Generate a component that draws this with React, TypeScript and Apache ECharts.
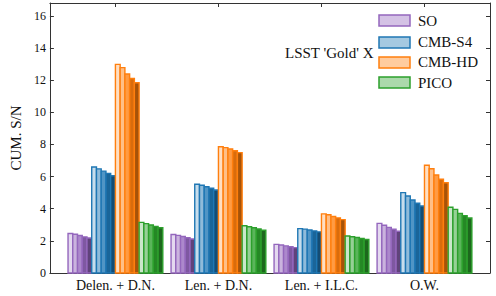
import React, { useEffect, useRef } from "react";
import * as echarts from "echarts";

const categories = ["Delen. + D.N.", "Len. + D.N.", "Len. + I.L.C.", "O.W."];
const experiments = ["SO", "CMB-S4", "CMB-HD", "PICO"];
const yTicks = [0, 2, 4, 6, 8, 10, 12, 14, 16];

// cumulative S/N per category, 5 steps per experiment
const soValues = [
  [2.46, 2.41, 2.33, 2.25, 2.18],
  [2.4, 2.34, 2.27, 2.19, 2.12],
  [1.78, 1.74, 1.69, 1.63, 1.58],
  [3.09, 2.97, 2.84, 2.72, 2.6],
];
const s4Values = [
  [6.6, 6.48, 6.34, 6.2, 6.05],
  [5.52, 5.46, 5.37, 5.27, 5.16],
  [2.76, 2.73, 2.68, 2.62, 2.56],
  [5.0, 4.79, 4.54, 4.34, 4.17],
];
const hdValues = [
  [12.98, 12.78, 12.38, 12.1, 11.84],
  [7.86, 7.8, 7.72, 7.61, 7.49],
  [3.68, 3.62, 3.52, 3.43, 3.32],
  [6.7, 6.49, 6.1, 5.83, 5.62],
];
const picoValues = [
  [3.15, 3.07, 2.99, 2.9, 2.82],
  [2.94, 2.88, 2.82, 2.74, 2.66],
  [2.3, 2.26, 2.21, 2.15, 2.08],
  [4.09, 3.96, 3.71, 3.57, 3.42],
];
const allValues = [soValues, s4Values, hdValues, picoValues];

const baseColors = ["#9467bd", "#1f77b4", "#ff7f0e", "#2ca02c"];
const FONT = "Liberation Serif";

function hexToRgb(h: string) {
  const n = parseInt(h.slice(1), 16);
  return [(n >> 16) & 255, (n >> 8) & 255, n & 255];
}
function shade(h: string, t: number) {
  const [r, g, b] = hexToRgb(h);
  let c;
  if (t >= 0) c = [r, g, b].map((v) => Math.round(v + (255 - v) * t));
  else c = [r, g, b].map((v) => Math.round(v * (1 + t)));
  return `rgb(${c[0]},${c[1]},${c[2]})`;
}
const shadeSteps = [0.75, 0.5, 0.22, -0.15, -0.35];

const EXP_W = 0.23;
const BAR_W = 0.046;

export default function App() {
  const ref = useRef<HTMLDivElement>(null);
  useEffect(() => {
    if (!ref.current) return;
    const chart = echarts.init(ref.current, null, { renderer: "svg" });
    const data: number[][] = [];
    allValues.forEach((expVals, e) => {
      expVals.forEach((vals, c) => {
        vals.forEach((v, k) => data.push([c, e, k, v]));
      });
    });
    const axisLine = { show: true, onZero: false, lineStyle: { color: "#333", width: 1 } };
    const legendX = 379;
    const legendYs = [15, 37, 57, 77];
    const legendTextYs = [21, 42, 62, 83];
    chart.setOption({
      animation: false,
      textStyle: { fontFamily: FONT },
      grid: { left: 40, right: 6, top: 3, bottom: 23, containLabel: false },
      xAxis: [
        {
          type: "value",
          min: -0.636,
          max: 3.636,
          position: "bottom",
          axisLine,
          splitLine: { show: false },
          axisTick: { show: true, inside: true, length: 4, customValues: [0, 1, 2, 3], lineStyle: { color: "#333" } },
          axisLabel: {
            customValues: [0, 1, 2, 3],
            formatter: (v: number) => categories[Math.round(v)] ?? "",
            fontFamily: FONT,
            fontSize: 14,
            color: "#111",
            margin: 5,
          },
        },
        {
          type: "value",
          min: -0.636,
          max: 3.636,
          position: "top",
          axisLine,
          splitLine: { show: false },
          axisTick: { show: true, inside: true, length: 4, customValues: [0, 1, 2, 3], lineStyle: { color: "#333" } },
          axisLabel: { show: false },
        },
      ],
      yAxis: [
        {
          type: "value",
          min: 0,
          max: 16.8,
          position: "left",
          axisLine,
          splitLine: { show: false },
          axisTick: { show: true, inside: true, length: 4, customValues: yTicks, lineStyle: { color: "#333" } },
          axisLabel: {
            customValues: yTicks,
            fontFamily: FONT,
            fontSize: 12,
            color: "#111",
            margin: 4,
          },
          name: "CUM. S/N",
          nameLocation: "middle",
          nameGap: 20,
          nameTextStyle: { fontFamily: FONT, fontSize: 15, color: "#111" },
        },
        {
          type: "value",
          min: 0,
          max: 16.8,
          position: "right",
          axisLine,
          splitLine: { show: false },
          axisTick: { show: true, inside: true, length: 4, customValues: yTicks, lineStyle: { color: "#333" } },
          axisLabel: { show: false },
        },
      ],
      series: [
        {
          type: "custom",
          xAxisIndex: 0,
          yAxisIndex: 0,
          encode: { x: 0, y: 3 },
          data,
          renderItem: (params: any, api: any) => {
            const c = api.value(0);
            const e = api.value(1);
            const k = api.value(2);
            const v = api.value(3);
            const x0 = c + (e - 2) * EXP_W + k * BAR_W;
            const p1 = api.coord([x0, v]);
            const p2 = api.coord([x0 + BAR_W, 0]);
            const base = baseColors[e];
            return {
              type: "rect",
              shape: { x: p1[0], y: p1[1], width: p2[0] - p1[0], height: p2[1] - p1[1] },
              style: { fill: shade(base, shadeSteps[k]), stroke: base, lineWidth: 1.4 },
            };
          },
        },
      ],
      graphic: [
        {
          type: "text",
          x: 285,
          y: 53,
          style: { text: "LSST 'Gold' X", fontFamily: FONT, fontSize: 15, fill: "#111", verticalAlign: "middle" },
        },
        ...experiments.flatMap((name, i) => [
          {
            type: "rect",
            shape: { x: legendX, y: legendYs[i], width: 31, height: 11 },
            style: { fill: shade(baseColors[i], 0.6), stroke: baseColors[i], lineWidth: 1.5 },
          },
          {
            type: "text",
            x: 418,
            y: legendTextYs[i],
            style: { text: name, fontFamily: FONT, fontSize: 15, fill: "#111", verticalAlign: "middle" },
          },
        ]),
      ],
    });
    return () => chart.dispose();
  }, []);
  return <div ref={ref} style={{ width: 496, height: 296, position: "absolute", left: 0, top: 0 }} />;
}
